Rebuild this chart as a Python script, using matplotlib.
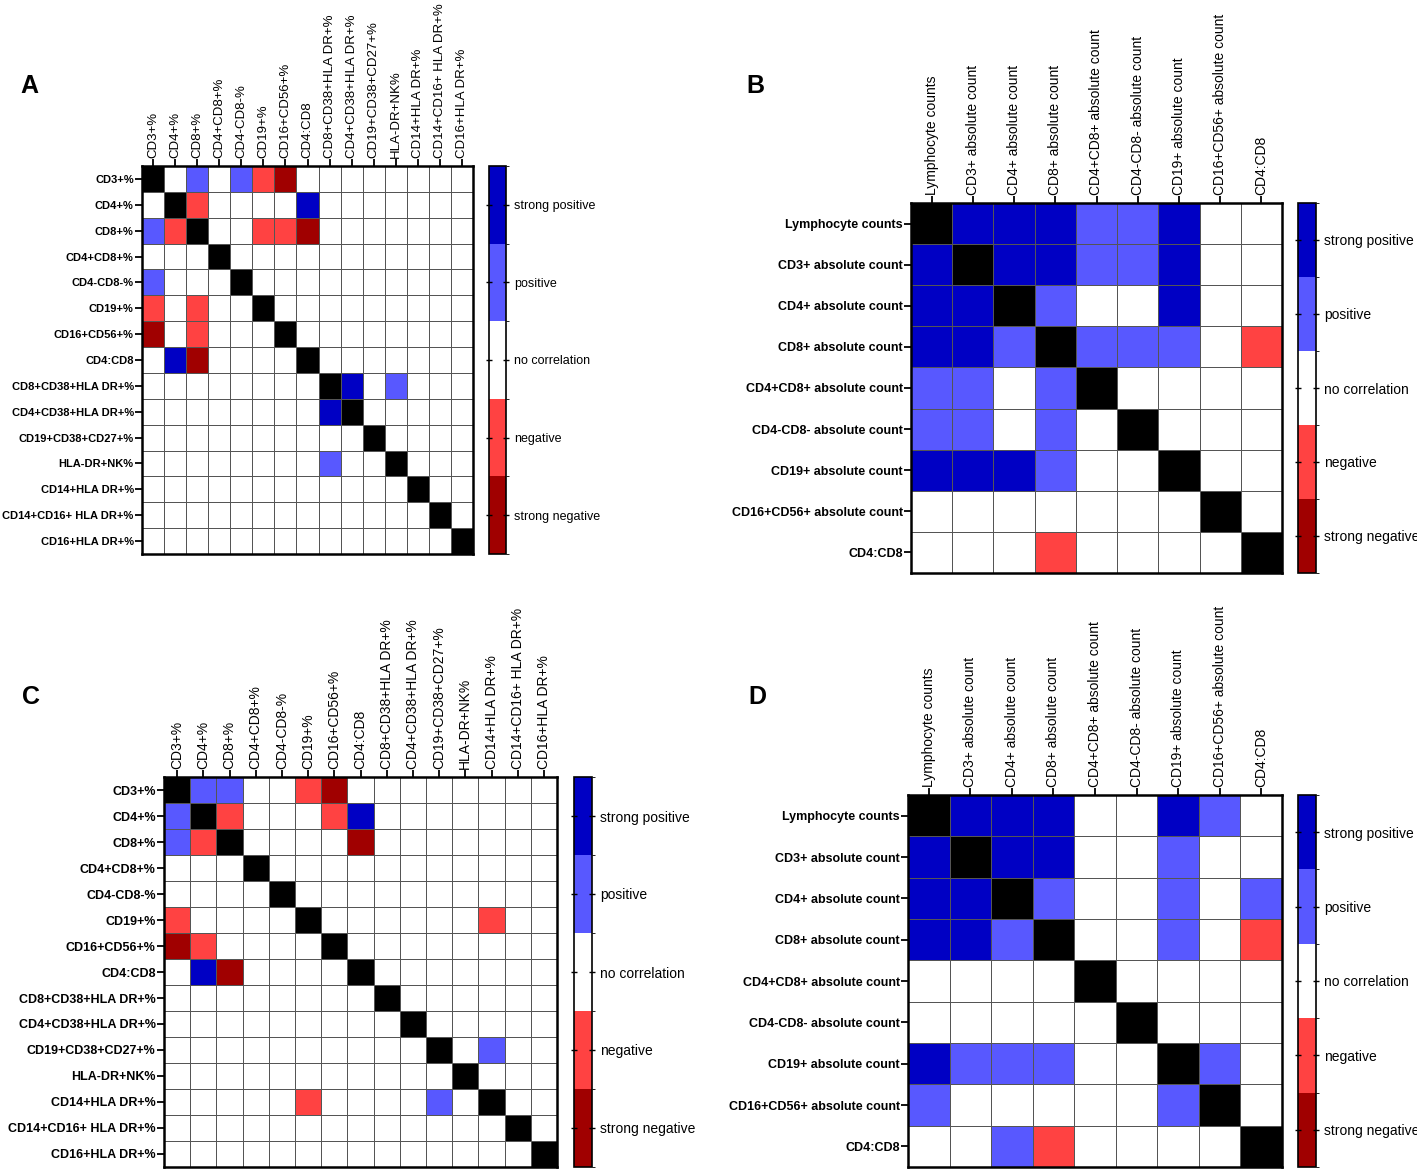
import numpy as np
import matplotlib
matplotlib.use('Agg')
import matplotlib.pyplot as plt
from matplotlib.colors import ListedColormap, BoundaryNorm
from matplotlib.cm import ScalarMappable

plt.rcParams['font.family'] = ['Liberation Sans', 'DejaVu Sans']

# categories
pct_labels = ['CD3+%', 'CD4+%', 'CD8+%', 'CD4+CD8+%', 'CD4-CD8-%', 'CD19+%',
              'CD16+CD56+%', 'CD4:CD8', 'CD8+CD38+HLA DR+%', 'CD4+CD38+HLA DR+%',
              'CD19+CD38+CD27+%', 'HLA-DR+NK%', 'CD14+HLA DR+%',
              'CD14+CD16+ HLA DR+%', 'CD16+HLA DR+%']
abs_labels = ['Lymphocyte counts', 'CD3+ absolute count', 'CD4+ absolute count',
              'CD8+ absolute count', 'CD4+CD8+ absolute count',
              'CD4-CD8- absolute count', 'CD19+ absolute count',
              'CD16+CD56+ absolute count', 'CD4:CD8']
level_labels = ['strong negative', 'negative', 'no correlation', 'positive', 'strong positive']

# correlation grade: 2 strong pos, 1 pos, 0 none, -1 neg, -2 strong neg (diagonal drawn black)
grid_a = [
    [0, 0, 1, 0, 1, -1, -2, 0, 0, 0, 0, 0, 0, 0, 0],
    [0, 0, -1, 0, 0, 0, 0, 2, 0, 0, 0, 0, 0, 0, 0],
    [1, -1, 0, 0, 0, -1, -1, -2, 0, 0, 0, 0, 0, 0, 0],
    [0, 0, 0, 0, 0, 0, 0, 0, 0, 0, 0, 0, 0, 0, 0],
    [1, 0, 0, 0, 0, 0, 0, 0, 0, 0, 0, 0, 0, 0, 0],
    [-1, 0, -1, 0, 0, 0, 0, 0, 0, 0, 0, 0, 0, 0, 0],
    [-2, 0, -1, 0, 0, 0, 0, 0, 0, 0, 0, 0, 0, 0, 0],
    [0, 2, -2, 0, 0, 0, 0, 0, 0, 0, 0, 0, 0, 0, 0],
    [0, 0, 0, 0, 0, 0, 0, 0, 0, 2, 0, 1, 0, 0, 0],
    [0, 0, 0, 0, 0, 0, 0, 0, 2, 0, 0, 0, 0, 0, 0],
    [0, 0, 0, 0, 0, 0, 0, 0, 0, 0, 0, 0, 0, 0, 0],
    [0, 0, 0, 0, 0, 0, 0, 0, 1, 0, 0, 0, 0, 0, 0],
    [0, 0, 0, 0, 0, 0, 0, 0, 0, 0, 0, 0, 0, 0, 0],
    [0, 0, 0, 0, 0, 0, 0, 0, 0, 0, 0, 0, 0, 0, 0],
    [0, 0, 0, 0, 0, 0, 0, 0, 0, 0, 0, 0, 0, 0, 0],
]
grid_b = [
    [0, 2, 2, 2, 1, 1, 2, 0, 0],
    [2, 0, 2, 2, 1, 1, 2, 0, 0],
    [2, 2, 0, 1, 0, 0, 2, 0, 0],
    [2, 2, 1, 0, 1, 1, 1, 0, -1],
    [1, 1, 0, 1, 0, 0, 0, 0, 0],
    [1, 1, 0, 1, 0, 0, 0, 0, 0],
    [2, 2, 2, 1, 0, 0, 0, 0, 0],
    [0, 0, 0, 0, 0, 0, 0, 0, 0],
    [0, 0, 0, -1, 0, 0, 0, 0, 0],
]
grid_c = [
    [0, 1, 1, 0, 0, -1, -2, 0, 0, 0, 0, 0, 0, 0, 0],
    [1, 0, -1, 0, 0, 0, -1, 2, 0, 0, 0, 0, 0, 0, 0],
    [1, -1, 0, 0, 0, 0, 0, -2, 0, 0, 0, 0, 0, 0, 0],
    [0, 0, 0, 0, 0, 0, 0, 0, 0, 0, 0, 0, 0, 0, 0],
    [0, 0, 0, 0, 0, 0, 0, 0, 0, 0, 0, 0, 0, 0, 0],
    [-1, 0, 0, 0, 0, 0, 0, 0, 0, 0, 0, 0, -1, 0, 0],
    [-2, -1, 0, 0, 0, 0, 0, 0, 0, 0, 0, 0, 0, 0, 0],
    [0, 2, -2, 0, 0, 0, 0, 0, 0, 0, 0, 0, 0, 0, 0],
    [0, 0, 0, 0, 0, 0, 0, 0, 0, 0, 0, 0, 0, 0, 0],
    [0, 0, 0, 0, 0, 0, 0, 0, 0, 0, 0, 0, 0, 0, 0],
    [0, 0, 0, 0, 0, 0, 0, 0, 0, 0, 0, 0, 1, 0, 0],
    [0, 0, 0, 0, 0, 0, 0, 0, 0, 0, 0, 0, 0, 0, 0],
    [0, 0, 0, 0, 0, -1, 0, 0, 0, 0, 1, 0, 0, 0, 0],
    [0, 0, 0, 0, 0, 0, 0, 0, 0, 0, 0, 0, 0, 0, 0],
    [0, 0, 0, 0, 0, 0, 0, 0, 0, 0, 0, 0, 0, 0, 0],
]
grid_d = [
    [0, 2, 2, 2, 0, 0, 2, 1, 0],
    [2, 0, 2, 2, 0, 0, 1, 0, 0],
    [2, 2, 0, 1, 0, 0, 1, 0, 1],
    [2, 2, 1, 0, 0, 0, 1, 0, -1],
    [0, 0, 0, 0, 0, 0, 0, 0, 0],
    [0, 0, 0, 0, 0, 0, 0, 0, 0],
    [2, 1, 1, 1, 0, 0, 0, 1, 0],
    [1, 0, 0, 0, 0, 0, 1, 0, 0],
    [0, 0, 1, -1, 0, 0, 0, 0, 0],
]

level_colors = ['#a00000', '#ff4242', '#ffffff', '#5858ff', '#0000c4']
cmap = ListedColormap(level_colors + ['#000000'])
norm = BoundaryNorm(np.arange(-2.5, 4.0, 1.0), cmap.N)
cb_cmap = ListedColormap(level_colors)
cb_norm = BoundaryNorm(np.arange(-2.5, 3.0, 1.0), cb_cmap.N)

W, H = 1417, 1169
fig = plt.figure(figsize=(W / 100, H / 100), dpi=100)


def px_axes(x0, y0, x1, y1):
    return fig.add_axes([x0 / W, 1 - y1 / H, (x1 - x0) / W, (y1 - y0) / H])


def draw_panel(grid, labels, box, cbox, letter, lpos, col_fs, row_fs, cb_fs):
    m = np.array(grid, dtype=float)
    np.fill_diagonal(m, 3)
    n = len(labels)
    ax = px_axes(*box)
    ax.pcolormesh(np.arange(n + 1), np.arange(n + 1), m, cmap=cmap, norm=norm,
                  edgecolors='#555555', linewidth=0.6)
    ax.set_xlim(0, n)
    ax.set_ylim(n, 0)
    ax.set_xticks(np.arange(n) + 0.5)
    ax.set_yticks(np.arange(n) + 0.5)
    ax.xaxis.tick_top()
    ax.set_xticklabels(labels, rotation=90, fontsize=col_fs)
    ax.set_yticklabels(labels, fontsize=row_fs, fontweight='bold')
    ax.tick_params(length=5, width=1.3, pad=1)
    for s in ax.spines.values():
        s.set_linewidth(1.8)

    cax = px_axes(*cbox)
    cb = fig.colorbar(ScalarMappable(norm=cb_norm, cmap=cb_cmap), cax=cax,
                      ticks=np.arange(-2, 3))
    cb.ax.set_yticklabels(level_labels, fontsize=cb_fs)
    cb.ax.tick_params(direction='inout', length=4, width=1, left=True, pad=4)
    cb.outline.set_linewidth(1.2)

    fig.text(lpos[0] / W, 1 - lpos[1] / H, letter, fontsize=18, fontweight='bold',
             ha='left', va='center')


draw_panel(grid_a, pct_labels, (142, 166, 473, 554), (489, 166, 506, 554),
           'A', (20, 86), 9.5, 8, 9)
draw_panel(grid_b, abs_labels, (911, 203, 1282, 573), (1298, 203, 1316, 573),
           'B', (746, 86), 10, 9, 10)
draw_panel(grid_c, pct_labels, (164, 777, 557, 1167), (574, 777, 592, 1167),
           'C', (22, 697), 10, 9, 10)
draw_panel(grid_d, abs_labels, (908, 795, 1282, 1167), (1298, 795, 1316, 1167),
           'D', (748, 697), 10, 9, 10)

plt.savefig('out.png', dpi=100)
